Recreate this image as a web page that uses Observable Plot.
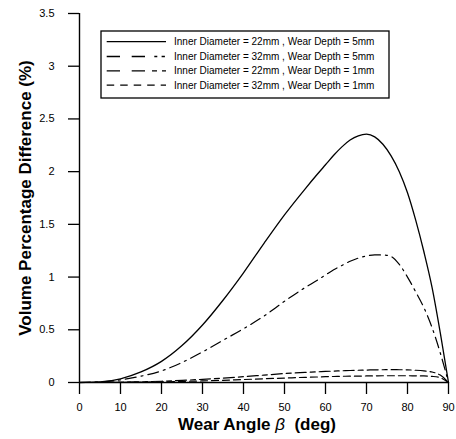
<!DOCTYPE html>
<html><head><meta charset="utf-8">
<script src="https://cdn.jsdelivr.net/npm/d3@7"></script>
<script src="https://cdn.jsdelivr.net/npm/@observablehq/plot@0.6"></script>
<style>body{margin:0;background:#fff}#chart{width:456px;height:439px}</style>
</head><body><div id="chart"></div>
<script>
// Wear angle (deg)
const angles = [0, 5, 10, 15, 20, 25, 30, 35, 40, 45, 50, 55, 58, 60, 62, 64, 66, 68, 70, 72, 74, 76, 78, 80, 82, 84, 86, 88, 90];
// Volume percentage difference (%)
const d22w5 = [0, 0.005, 0.035, 0.10, 0.20, 0.35, 0.545, 0.78, 1.04, 1.32, 1.59, 1.835, 1.975, 2.065, 2.155, 2.235, 2.30, 2.34, 2.355, 2.33, 2.26, 2.15, 2.00, 1.80, 1.54, 1.24, 0.90, 0.47, 0];
const d32w5 = [0, 0.005, 0.025, 0.06, 0.11, 0.19, 0.29, 0.40, 0.51, 0.63, 0.77, 0.90, 0.97, 1.02, 1.07, 1.11, 1.15, 1.18, 1.20, 1.21, 1.21, 1.195, 1.12, 1.00, 0.86, 0.71, 0.52, 0.28, 0];
const d22w1 = [0, 0.001, 0.003, 0.007, 0.012, 0.02, 0.03, 0.042, 0.055, 0.07, 0.085, 0.096, 0.101, 0.105, 0.108, 0.111, 0.114, 0.116, 0.118, 0.12, 0.121, 0.122, 0.121, 0.12, 0.116, 0.11, 0.10, 0.07, 0];
const d32w1 = [0, 0.0005, 0.002, 0.004, 0.006, 0.01, 0.015, 0.021, 0.028, 0.035, 0.042, 0.049, 0.052, 0.055, 0.057, 0.059, 0.060, 0.061, 0.062, 0.063, 0.064, 0.064, 0.064, 0.064, 0.063, 0.062, 0.058, 0.045, 0];
const seriesNames = [
  "Inner Diameter = 22mm , Wear Depth = 5mm",
  "Inner Diameter = 32mm , Wear Depth = 5mm",
  "Inner Diameter = 22mm , Wear Depth = 1mm",
  "Inner Diameter = 32mm , Wear Depth = 1mm"
];
const seriesValues = [d22w5, d32w5, d22w1, d32w1];
const xTicks = [0, 10, 20, 30, 40, 50, 60, 70, 80, 90];
const yTicks = [0, 0.5, 1, 1.5, 2, 2.5, 3, 3.5];
const xTitle = ["Wear Angle ", "β", "  (deg)"];
const yTitle = "Volume Percentage Difference (%)";

const lineDash = ["none", "11,5,2,5", "11,4,5,4", "7,4"];
const legendDash = ["none", "13.3,11.7,13.3,9.3,3,4.3,3.3,20", "13.3,11.7,13.3,7,5,5,5,20", "7.5,6"];
const lineWidth = [1.3, 1.2, 1.2, 1.2];

const rows = seriesNames.map((name, i) => angles.map((a, j) => ({angle: a, value: seriesValues[i][j], name})));

const plot = Plot.plot({
  width: 456, height: 439,
  marginLeft: 79, marginRight: 8, marginTop: 13, marginBottom: 57,
  style: {fontFamily: "'Liberation Sans', Arial, sans-serif", fontSize: "11px", color: "#000", background: "#fff", overflow: "visible"},
  x: {domain: [0, 90]},
  y: {domain: [0, 3.5]},
  marks: [
    Plot.axisX({ticks: xTicks, tickSize: 12, tickPadding: 9, label: null, strokeWidth: 1.3}),
    Plot.axisY({ticks: yTicks, tickSize: 11, tickPadding: 14, label: null, strokeWidth: 1.3, tickFormat: d => String(d)}),
    Plot.ruleX([0], {strokeWidth: 1.4}),
    Plot.ruleY([0], {strokeWidth: 1.4}),
    ...rows.map((r, i) => Plot.line(r, {x: "angle", y: "value", curve: "monotone-x", stroke: "#000", strokeWidth: lineWidth[i], strokeDasharray: lineDash[i]}))
  ]
});
document.getElementById("chart").appendChild(plot);

const svg = d3.select(plot);
const ff = "'Liberation Sans', Arial, sans-serif";
// y title
svg.append("text")
  .attr("transform", "translate(31,198) rotate(-90)")
  .attr("text-anchor", "middle")
  .attr("font-family", ff).attr("font-weight", "bold").attr("font-size", 17)
  .attr("fill", "#000")
  .text(yTitle);
// x title
const xt = svg.append("text")
  .attr("x", 257).attr("y", 430)
  .attr("text-anchor", "middle")
  .attr("font-family", ff).attr("font-weight", "bold").attr("font-size", 17)
  .attr("fill", "#000")
  .style("white-space", "pre");
xt.append("tspan").text(xTitle[0]);
xt.append("tspan").attr("font-style", "italic").attr("font-weight", "normal").text(xTitle[1]);
xt.append("tspan").text(xTitle[2]);

// legend
const lg = svg.append("g").attr("text-anchor", "start");
lg.append("rect").attr("x", 101).attr("y", 31).attr("width", 288).attr("height", 67)
  .attr("fill", "#fff").attr("stroke", "#000").attr("stroke-width", 1.3);
const rowY = [41.7, 56.5, 70.8, 85.2];
seriesNames.forEach((name, i) => {
  lg.append("line").attr("x1", 106.7).attr("x2", 166).attr("y1", rowY[i]).attr("y2", rowY[i])
    .attr("stroke", "#000").attr("stroke-width", 1.3).attr("stroke-dasharray", legendDash[i]);
  lg.append("text").attr("x", 174).attr("y", rowY[i] + 3.6).attr("text-anchor", "start")
    .attr("font-family", ff).attr("font-size", 10).attr("fill", "#000").text(name);
});
</script>
</body></html>
